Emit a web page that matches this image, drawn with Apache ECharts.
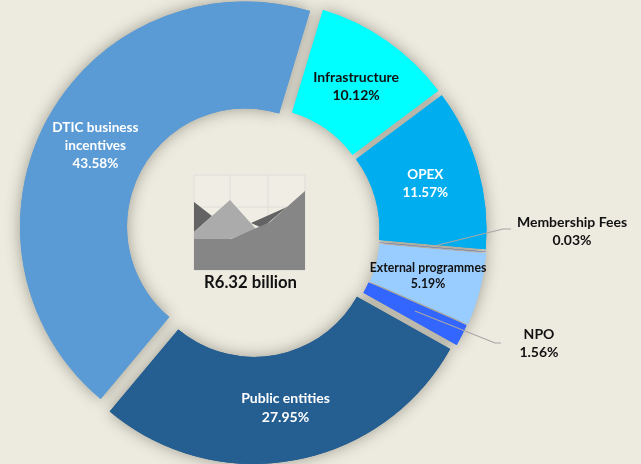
<!DOCTYPE html>
<html><head><meta charset="utf-8">
<script src="https://cdn.jsdelivr.net/npm/echarts@6/dist/echarts.min.js"></script>
<style>html,body{margin:0;padding:0;background:#EDEBE0}#c{width:641px;height:464px}</style>
</head><body><div id="c"></div>
<script>
const categories=['Infrastructure','OPEX','Membership Fees','External programmes','NPO','Public entities','DTIC business\nincentives'];
const values=[10.12,11.57,0.03,5.19,1.56,27.95,43.58];
const colors=['#00FFFF','#00AEEF','#5B6FC0','#99CCFF','#3366FF','#255E91','#5B9BD5'];
const labelColors=['#111','#fff','#111','#111','#111','#fff','#fff'];
const labelSizes=[14,13.5,14,12.3,14,14,13.6];
const lineHeights=[18,18,18,16,18,19,18];
const labelNudges=[[-2,4],[-4,2],[0,0],[-3,-1],[0,0],[0,-3],[4,2]];
const totalLabel='R6.32 billion';
// Exploded-slice centres: each wedge of the doughnut is pulled out by its own amount.
const sliceCentres=[[258,225.5],[261.5,230],[262,232.5],[262,234],[260.5,235],[254,239],[245,226.5]];
const F='Lato, "Open Sans", sans-serif';
const outside={
 'Membership Fees':{x:572,y:231,pts:[[438,245],[503,229],[511,229]]},
 'NPO':{x:539,y:343,pts:[[415,311],[495,343],[501,343]]}
};
const hidden={color:'rgba(0,0,0,0)',shadowBlur:0,shadowColor:'rgba(0,0,0,0)'};
function slicePie(i,withShadow){
 const name=categories[i];
 const o=outside[name];
 return {
  type:'pie',
  name:name+(withShadow?' shadow':''),
  center:sliceCentres[i],
  radius:[118,225],
  startAngle:73.2,
  clockwise:true,
  minAngle:0,
  avoidLabelOverlap:false,
  silent:true,
  z:withShadow?1:2,
  emphasis:{disabled:true},
  labelLine:{show:false},
  label:{show:false},
  labelLayout:p=>{
   if(withShadow||p.dataIndex!==i) return {};
   return o?{x:o.x,y:o.y,align:'center',verticalAlign:'middle'}
           :{dx:labelNudges[i][0],dy:labelNudges[i][1]};
  },
  data:categories.map((n,j)=>{
   if(j!==i) return {name:n,value:values[j],itemStyle:hidden};
   const d={name:n,value:values[j],itemStyle:withShadow?
     {color:colors[j],shadowBlur:15,shadowColor:'rgba(60,55,40,0.45)'}:{color:colors[j]}};
   if(!withShadow){
    d.label={show:true,position:outside[n]?'outside':'inside',color:labelColors[j],
     fontFamily:F,fontWeight:'bold',fontSize:labelSizes[j],lineHeight:lineHeights[j],align:'center',
     formatter:p=>p.name+'\n'+p.value.toFixed(2)+'%'};
   }
   return d;
  })
 };
}
const chart=echarts.init(document.getElementById('c'),null,{renderer:'canvas'});
chart.setOption({
 backgroundColor:'#EDEBE0',
 animation:false,
 graphic:[
  {type:'group',z:5,silent:true,children:[
   {type:'rect',shape:{x:194,y:175,width:111,height:95},style:{fill:'#EFEDE4',stroke:'#DEDDD8',lineWidth:1}},
   {type:'line',shape:{x1:230,y1:175,x2:230,y2:230},style:{stroke:'#DEDDD8',lineWidth:1}},
   {type:'line',shape:{x1:268,y1:175,x2:268,y2:230},style:{stroke:'#DEDDD8',lineWidth:1}},
   {type:'line',shape:{x1:194,y1:207,x2:305,y2:207},style:{stroke:'#DEDDD8',lineWidth:1}},
   {type:'polygon',shape:{points:[[194,202],[212,216],[194,232]]},style:{fill:'#636363'}},
   {type:'polygon',shape:{points:[[251,223],[287,207],[262,228]]},style:{fill:'#636363'}},
   {type:'polygon',shape:{points:[[194,232],[230,200],[256,229],[230,239],[194,239]]},style:{fill:'#ABABAB'}},
   {type:'polygon',shape:{points:[[194,239],[231,239],[270,222],[305,191],[305,270],[194,270]]},style:{fill:'#868686'}}
  ]},
  {type:'text',z:6,silent:true,style:{x:250.5,y:283,text:totalLabel,align:'center',verticalAlign:'middle',font:'bold 16.7px '+F,fill:'#111'}},
  ...Object.values(outside).map(o=>({type:'polyline',z:7,silent:true,shape:{points:o.pts},style:{fill:'none',stroke:'#A6A6A6',lineWidth:1.2}}))
 ],
 series:[...categories.map((_,i)=>slicePie(i,true)),...categories.map((_,i)=>slicePie(i,false))]
});
</script></body></html>
